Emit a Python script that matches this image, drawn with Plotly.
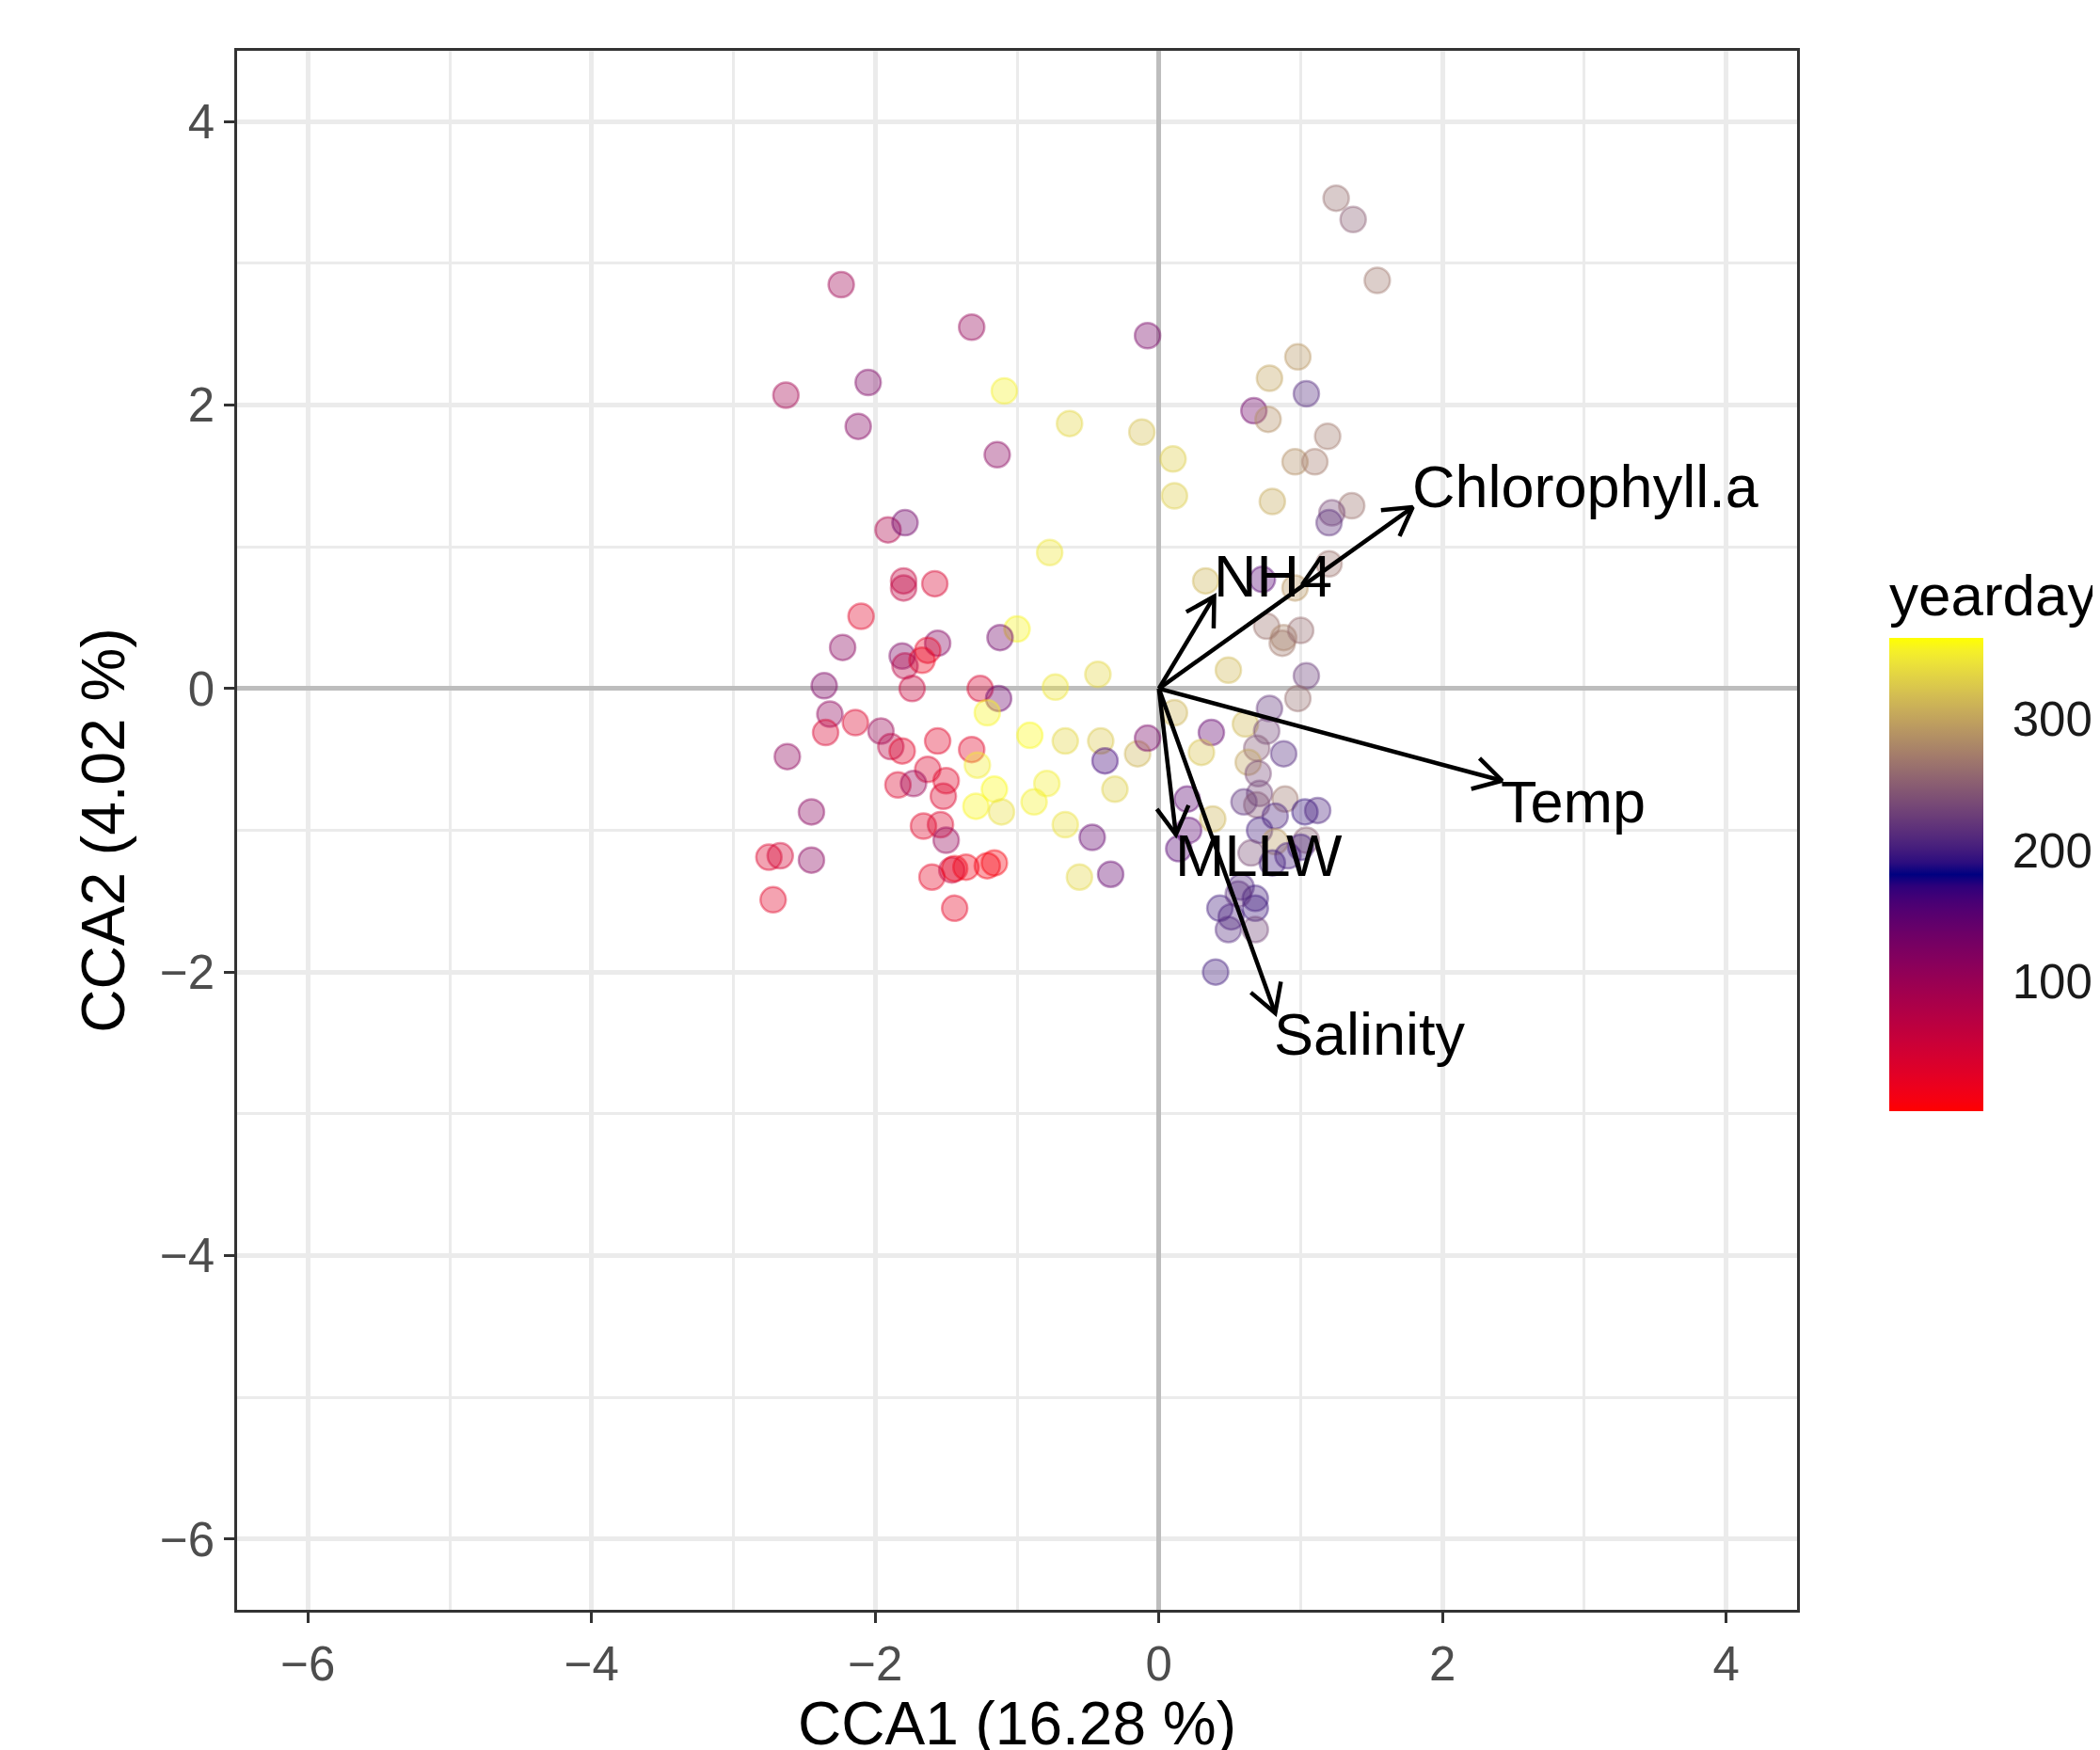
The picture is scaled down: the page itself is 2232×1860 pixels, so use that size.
import math
import plotly.graph_objects as go

# ---------------- data ----------------
cca1 = [-2.24, -1.32, -0.08, -2.05, -2.63, -1.09, -2.12, -0.63, -0.12, -1.14,
        0.10, 0.11, -1.91, -1.79, -0.77, -1.80, -1.80, -1.58, -2.10, -1.00,
        -1.12, -2.23, -1.56, -1.63, -1.81, -1.67, -1.79, -2.36, -1.74, -1.26,
        -1.13, -1.21, -0.73, -0.43, -2.32, -2.35, -2.14, -1.96, -1.89, -1.81,
        -2.62, -1.56, -1.32, -1.28, -0.91, -0.66, -0.41, -0.38, -0.15, -0.08,
        -0.31, -1.63, -1.50, -1.84, -1.73, -1.52, -1.16, -0.79, -0.88, -1.29,
        -1.11, -0.66, -0.47, -1.66, -1.54, -1.50, -2.45, -2.75, -2.67, -2.45,
        -2.72, -1.60, -1.46, -1.44, -1.36, -1.21, -1.16, -1.44, -0.56, -0.34,
        1.54, 1.25, 1.37, 0.98, 0.78, 1.04, 0.67, 0.77, 1.19, 0.96,
        1.10, 0.80, 1.36, 1.22, 1.20, 1.20, 0.33, 0.73, 0.96, 0.76,
        0.88, 0.87, 1.00, 1.04, 0.49, 0.98, 0.78, 0.11, 0.37, 0.61,
        0.76, 0.30, 0.88, 0.69, 0.63, 0.70, 0.71, 0.60, 0.69, 0.89,
        0.82, 1.03, 1.12, 1.04, 0.71, 0.82, 0.65, 0.80, 0.91, 0.20,
        0.38, 0.21, 0.14, 0.58, 0.68, 0.43, 0.51, 0.68, 0.49, 0.68,
        0.40, 0.56, 1.00]
cca2 = [2.85, 2.55, 2.49, 2.16, 2.07, 2.10, 1.85, 1.87, 1.81, 1.65,
        1.62, 1.36, 1.12, 1.17, 0.96, 0.76, 0.71, 0.74, 0.51, 0.42,
        0.36, 0.29, 0.32, 0.27, 0.23, 0.20, 0.16, 0.02, 0.00, 0.00,
        -0.07, -0.17, 0.01, 0.10, -0.18, -0.31, -0.24, -0.30, -0.41, -0.44,
        -0.48, -0.37, -0.43, -0.54, -0.33, -0.37, -0.37, -0.51, -0.46, -0.35,
        -0.71, -0.57, -0.65, -0.68, -0.67, -0.76, -0.71, -0.67, -0.80, -0.83,
        -0.87, -0.96, -1.05, -0.97, -0.96, -1.07, -0.87, -1.19, -1.18, -1.21,
        -1.49, -1.33, -1.28, -1.27, -1.26, -1.25, -1.23, -1.55, -1.33, -1.31,
        2.88, 3.46, 3.31, 2.34, 2.19, 2.08, 1.96, 1.90, 1.78, 1.60,
        1.60, 1.32, 1.29, 1.24, 1.17, 0.88, 0.76, 0.77, 0.71, 0.44,
        0.36, 0.32, 0.41, 0.09, 0.13, -0.07, -0.14, -0.17, -0.31, -0.25,
        -0.30, -0.45, -0.46, -0.42, -0.52, -0.60, -0.74, -0.80, -0.82, -0.78,
        -0.90, -0.87, -0.86, -1.07, -1.00, -1.08, -1.16, -1.23, -1.18, -0.78,
        -0.92, -1.00, -1.13, -1.40, -1.48, -1.55, -1.61, -1.55, -1.70, -1.70,
        -2.00, -1.45, -1.12]
yearday = [95, 105, 130, 125, 90, 352, 120, 335, 320, 115,
           328, 328, 80, 135, 345, 60, 65, 40, 30, 355,
           135, 115, 120, 25, 125, 20, 70, 125, 55, 40,
           140, 355, 345, 335, 110, 40, 35, 100, 70, 30,
           110, 30, 30, 350, 358, 335, 325, 165, 312, 130,
           330, 35, 30, 35, 100, 35, 358, 350, 352, 356,
           340, 342, 145, 30, 35, 105, 115, 35, 45, 115,
           30, 25, 60, 15, 15, 10, 8, 25, 335, 145,
           268, 262, 250, 292, 300, 210, 135, 285, 270, 285,
           272, 305, 265, 235, 215, 265, 312, 155, 292, 265,
           278, 270, 260, 225, 315, 262, 220, 312, 145, 315,
           232, 322, 210, 245, 300, 235, 232, 215, 245, 268,
           205, 195, 205, 250, 200, 295, 238, 198, 202, 150,
           312, 150, 155, 205, 200, 200, 205, 198, 210, 232,
           200, 215, 200]
yearday_range = [1, 362]
colorbar_ticks = [100, 200, 300]

env_names = ["NH4", "Chlorophyll.a", "Temp", "MLLW", "Salinity"]
env_cca1 = [0.39, 1.79, 2.42, 0.12, 0.82]
env_cca2 = [0.65, 1.28, -0.65, -1.03, -2.29]

axis_ticks = [-6, -4, -2, 0, 2, 4]

# ---------------- colour ramp (Lab interpolation, like ggplot) ----------------
def _lin(c):
    c = c / 255.0
    return c / 12.92 if c <= 0.04045 else ((c + 0.055) / 1.055) ** 2.4

def _f(t):
    return t ** (1 / 3) if t > 0.008856 else 7.787 * t + 16 / 116

def rgb2lab(rgb):
    r, g, b = [_lin(v) for v in rgb]
    X = (0.4124564 * r + 0.3575761 * g + 0.1804375 * b) / 0.95047
    Y = (0.2126729 * r + 0.7151522 * g + 0.0721750 * b)
    Z = (0.0193339 * r + 0.1191920 * g + 0.9503041 * b) / 1.08883
    fx, fy, fz = _f(X), _f(Y), _f(Z)
    return (116 * fy - 16, 500 * (fx - fy), 200 * (fy - fz))

def _finv(t):
    return t ** 3 if t ** 3 > 0.008856 else (t - 16 / 116) / 7.787

def lab2rgb(lab):
    L, a, b = lab
    fy = (L + 16) / 116
    fx = fy + a / 500
    fz = fy - b / 200
    X, Y, Z = _finv(fx) * 0.95047, _finv(fy), _finv(fz) * 1.08883
    r = 3.2404542 * X - 1.5371385 * Y - 0.4985314 * Z
    g = -0.9692660 * X + 1.8760108 * Y + 0.0415560 * Z
    bb = 0.0556434 * X - 0.2040259 * Y + 1.0572252 * Z
    out = []
    for c in (r, g, bb):
        c = 12.92 * c if c <= 0.0031308 else 1.055 * (max(c, 0) ** (1 / 2.4)) - 0.055
        out.append(int(round(min(max(c, 0), 1) * 255)))
    return out

ramp_colours = [(255, 0, 0), (0, 0, 128), (255, 255, 0)]
ramp_labs = [rgb2lab(c) for c in ramp_colours]

def ramp(t):
    seg = min(int(t * 2), 1)
    u = t * 2 - seg
    a, b = ramp_labs[seg], ramp_labs[seg + 1]
    return lab2rgb(tuple(a[i] + (b[i] - a[i]) * u for i in range(3)))

N = 41
stops = [i / (N - 1) for i in range(N)]
opaque_scale = [[s, "rgb({},{},{})".format(*ramp(s))] for s in stops]
fill_scale = [[s, "rgba({},{},{},0.36)".format(*ramp(s))] for s in stops]
ring_scale = [[s, "rgba({},{},{},0.4)".format(*ramp(s))] for s in stops]

# ---------------- geometry (figure pixels; page has an 8px body margin) ----------------
W, H = 2232, 1860
L_, R_, T_, B_ = 244, 330, 46, 157
pw, ph = W - L_ - R_, H - T_ - B_

def px_x(xf):
    return (xf - L_) / pw

def px_y(yf):
    return (H - B_ - yf) / ph

bar_left, bar_top, bar_bottom = 2000, 670, 1173
cb_top = bar_top - 74

# ---------------- figure ----------------
fig = go.Figure()

fig.add_trace(go.Scatter(
    x=cca1, y=cca2, mode="markers", hoverinfo="skip", showlegend=False,
    marker=dict(size=27, color=yearday, colorscale=fill_scale,
                cmin=yearday_range[0], cmax=yearday_range[1], showscale=False,
                line=dict(width=2.5, color=yearday, colorscale=ring_scale,
                          cmin=yearday_range[0], cmax=yearday_range[1])),
))

fig.add_trace(go.Scatter(
    x=cca1, y=cca2, mode="markers", hoverinfo="skip", showlegend=False,
    marker=dict(size=1, opacity=0, color=yearday, colorscale=opaque_scale,
                cmin=yearday_range[0], cmax=yearday_range[1], showscale=True,
                colorbar=dict(
                    thickness=100, thicknessmode="pixels",
                    len=bar_bottom - cb_top, lenmode="pixels",
                    x=px_x(bar_left), xanchor="left",
                    y=px_y(cb_top), yanchor="top",
                    xpad=0, ypad=0, outlinewidth=0,
                    tickvals=colorbar_ticks, ticks="outside", ticklen=21,
                    tickwidth=2, tickcolor="rgba(0,0,0,0)",
                    tickfont=dict(size=51, color="#1a1a1a"),
                    title=dict(text="yearday", side="top",
                               font=dict(size=62, color="black")),
                )),
))

# biplot arrows
head_len = 0.225
head_ang = math.radians(30)
for name, ex, ey in zip(env_names, env_cca1, env_cca2):
    a = math.atan2(ey, ex)
    h1 = (ex - head_len * math.cos(a - head_ang), ey - head_len * math.sin(a - head_ang))
    h2 = (ex - head_len * math.cos(a + head_ang), ey - head_len * math.sin(a + head_ang))
    fig.add_trace(go.Scatter(
        x=[0, ex, None, h1[0], ex, h2[0]], y=[0, ey, None, h1[1], ey, h2[1]],
        mode="lines", line=dict(color="black", width=4.5), hoverinfo="skip",
        showlegend=False))
    fig.add_annotation(x=ex, y=ey, text=name, showarrow=False,
                       xanchor="left", yanchor="middle",
                       yshift=22 if ey > 0 else -22, xshift=-3,
                       font=dict(size=63, color="black"))

# white colorbar ticks on both edges of the bar (ggplot style)
for v in colorbar_ticks:
    frac = (v - yearday_range[0]) / (yearday_range[1] - yearday_range[0])
    yy = px_y(bar_bottom) + frac * (px_y(bar_top) - px_y(bar_bottom))
    for xs, xe in ((bar_left, bar_left + 20), (bar_left + 80, bar_left + 100)):
        fig.add_shape(type="line", xref="paper", yref="paper",
                      x0=px_x(xs), x1=px_x(xe), y0=yy, y1=yy,
                      line=dict(color="white", width=2.5), layer="above")

axis_common = dict(
    range=[-6.5, 4.5], tickvals=axis_ticks, ticks="outside", ticklen=11,
    tickwidth=2.5, tickcolor="#333333",
    tickfont=dict(size=51, color="#4d4d4d"),
    showgrid=True, gridcolor="#ebebeb", gridwidth=4.5,
    minor=dict(dtick=1, tick0=0, showgrid=True, gridcolor="#ebebeb", gridwidth=2.5),
    zeroline=True, zerolinecolor="#bdbdbd", zerolinewidth=4.5,
    showline=True, mirror=True, linecolor="#333333", linewidth=2.5,
)

fig.update_layout(
    width=W, height=H,
    margin=dict(l=L_, r=R_, t=T_, b=B_, autoexpand=False),
    plot_bgcolor="white", paper_bgcolor="white",
    font=dict(family="Liberation Sans, Arial, sans-serif", color="black"),
    showlegend=False,
    xaxis=dict(axis_common, title=dict(text="CCA1 (16.28 %)",
                                       font=dict(size=64, color="black"), standoff=13)),
    yaxis=dict(axis_common, title=dict(text="CCA2 (4.02 %)",
                                       font=dict(size=64, color="black"), standoff=17)),
)

fig.write_html("out.html")
